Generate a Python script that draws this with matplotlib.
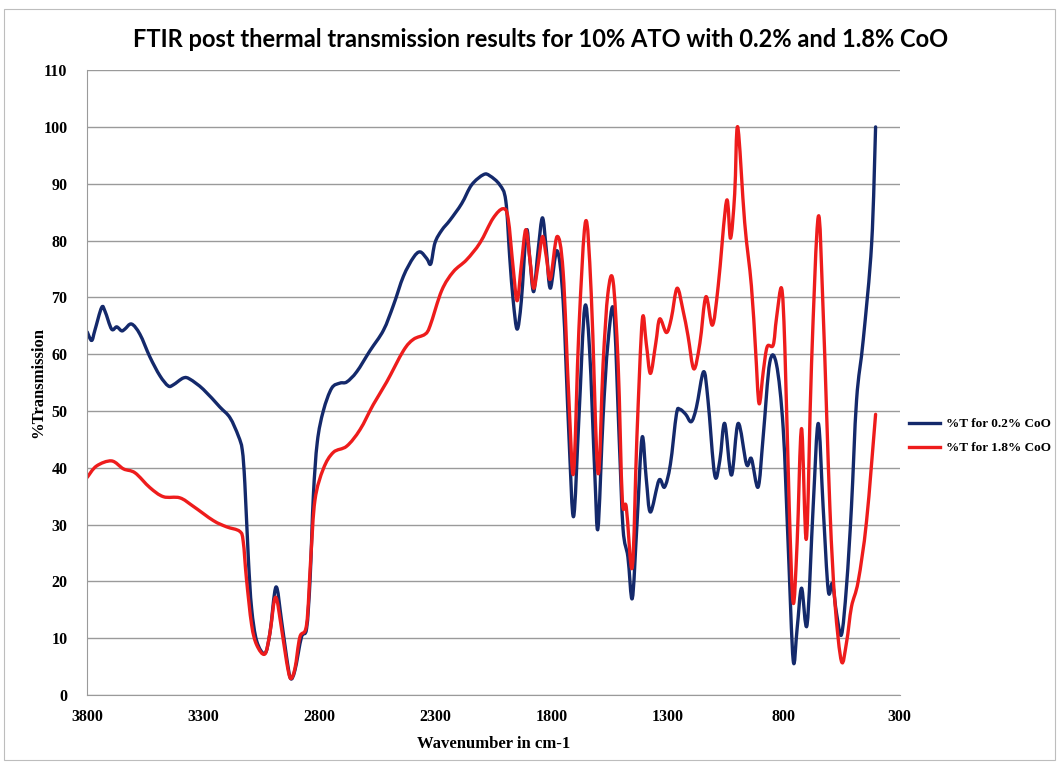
import numpy as np
import matplotlib
matplotlib.use("Agg")
import matplotlib.pyplot as plt
from matplotlib.patches import Rectangle, PathPatch
from matplotlib.path import Path
from matplotlib.lines import Line2D

wn_low = [3799, 3780, 3766, 3737, 3722, 3694, 3672, 3651, 3637, 3608, 3572, 3529, 3486, 3450,
          3428, 3385, 3357, 3299, 3228, 3184, 3148, 3131, 3120, 3105, 3091, 3069, 3034, 3012,
          2986, 2962, 2940, 2923, 2904, 2876, 2854, 2839, 2825, 2808, 2782, 2746, 2710, 2681,
          2638, 2581, 2523, 2480, 2437, 2394, 2365, 2336, 2319, 2301, 2272, 2236, 2186, 2143,
          2092, 2065, 2022, 1996, 1979, 1964, 1947, 1929, 1907, 1893, 1876, 1857, 1838, 1821,
          1804, 1775, 1749, 1724, 1704, 1681, 1656, 1635, 1613, 1599, 1577, 1556, 1531, 1508,
          1491, 1470, 1451, 1431, 1409, 1391, 1373, 1336, 1312, 1287, 1261, 1247, 1221, 1197,
          1175, 1144, 1125, 1096, 1074, 1053, 1024, 995, 959, 938, 909, 887, 859, 830, 801, 780,
          758, 741, 722, 698, 672, 650, 629, 607, 589, 571, 550, 528, 507, 485, 456, 420, 403]
t_low = [63.9, 62.4, 64.2, 68.2, 67.5, 64.4, 64.8, 64.1, 64.4, 65.3, 63.5, 59.5, 56.2, 54.4,
         54.6, 55.8, 55.6, 53.8, 50.7, 48.8, 45.6, 43.1, 37.2, 24.1, 15.3, 9.5, 7.3, 10.9,
         19.0, 13.1, 6.6, 2.9, 4.4, 10.2, 11.7, 20.4, 35.0, 44.5, 50.0, 54.0, 54.9, 55.1,
         56.9, 60.6, 64.2, 68.6, 73.7, 77.0, 78.0, 76.8, 75.9, 79.6, 81.8, 83.6, 86.5, 89.8,
         91.6, 91.4, 89.8, 87.0, 77.0, 69.4, 64.4, 69.4, 81.7, 77.0, 71.0, 78.2, 84.0, 78.2,
         71.6, 78.2, 69.4, 45.6, 31.4, 48.8, 68.2, 60.7, 39.4, 29.3, 48.8, 61.9, 67.6, 45.6,
         29.3, 24.3, 17.0, 30.0, 45.3, 38.1, 32.2, 37.8, 36.6, 40.6, 49.4, 50.3, 49.4, 48.1,
         50.6, 56.9, 51.9, 38.7, 41.3, 47.8, 38.7, 47.8, 40.6, 41.6, 36.6, 45.6, 58.5, 58.2, 46.9, 26.8,
         6.1, 11.7, 18.8, 12.4, 33.1, 47.8, 33.1, 18.4, 19.6, 14.3, 10.6, 19.3, 33.1, 51.9, 62.6, 79.5, 100.0]

wn_high = [3799, 3759, 3694, 3643, 3593, 3529, 3471, 3400, 3342, 3256, 3199, 3142, 3127, 3113,
           3091, 3069, 3034, 3012, 2988, 2962, 2940, 2923, 2904, 2883, 2854, 2836, 2818, 2782,
           2739, 2681, 2624, 2567, 2509, 2437, 2394, 2344, 2322, 2272, 2222, 2165, 2107, 2051,
           2008, 1986, 1964, 1947, 1929, 1910, 1893, 1876, 1857, 1838, 1821, 1804, 1775, 1749,
           1724, 1704, 1681, 1652, 1628, 1599, 1577, 1556, 1534, 1512, 1494, 1477, 1451, 1431,
           1408, 1391, 1373, 1350, 1333, 1304, 1283, 1258, 1232, 1211, 1186, 1160, 1134, 1106,
           1081, 1045, 1028, 1010, 997, 967, 938, 920, 905, 887, 870, 844, 830, 808, 794, 775,
           758, 741, 722, 701, 679, 650, 629, 600, 578, 550, 528, 507, 478, 442, 403]
t_high = [38.3, 40.3, 41.2, 39.8, 39.1, 36.5, 34.9, 34.7, 33.2, 30.7, 29.6, 28.8, 27.0, 20.4,
          12.4, 8.8, 7.2, 10.9, 17.2, 11.7, 5.8, 2.9, 4.7, 10.2, 12.4, 24.1, 34.3, 39.8,
          42.7, 43.8, 46.7, 51.1, 55.1, 60.6, 62.6, 63.5, 65.0, 71.2, 74.5, 76.6, 79.6, 83.9,
          85.6, 83.9, 75.1, 69.4, 75.7, 81.9, 77.0, 71.6, 75.7, 80.7, 77.0, 73.2, 80.7, 74.5,
          51.9, 39.1, 64.4, 83.4, 70.7, 39.1, 58.2, 70.7, 72.9, 58.2, 34.4, 33.1, 22.5, 45.6,
          66.0, 61.9, 56.6, 61.9, 66.2, 63.8, 66.3, 71.6, 67.6, 63.2, 57.4, 61.9, 70.1, 65.1,
          72.0, 87.0, 80.4, 88.2, 100.0, 83.2, 72.0, 60.7, 51.3, 56.9, 61.3, 61.6, 66.3, 71.6, 61.3, 33.1,
          16.2, 26.8, 46.9, 27.5, 58.2, 84.2, 67.6, 33.1, 16.2, 5.9, 9.3, 15.5, 20.0, 30.6, 49.4]

labels = ["%T for 0.2% CoO", "%T for 1.8% CoO"]
colors = ["#14296b", "#ee1c1c"]
x_ticks = [3800, 3300, 2800, 2300, 1800, 1300, 800, 300]
y_ticks = list(range(0, 111, 10))

serif = "Liberation Serif"


def smooth_path(x, y):
    # Excel-style smoothed line: Catmull-Rom segments drawn as cubic Beziers
    p = np.column_stack([x, y]).astype(float)
    verts = [p[0]]
    codes = [Path.MOVETO]
    n = len(p)
    for i in range(n - 1):
        p0 = p[i - 1] if i > 0 else p[i]
        p3 = p[i + 2] if i + 2 < n else p[i + 1]
        c1 = p[i] + (p[i + 1] - p0) / 6.0
        c2 = p[i + 1] - (p3 - p[i]) / 6.0
        verts += [c1, c2, p[i + 1]]
        codes += [Path.CURVE4] * 3
    return Path(verts, codes)


fig = plt.figure(figsize=(10.57, 7.62), dpi=100)
fig.patches.append(Rectangle((0.004, 0.003), 0.994, 0.985, transform=fig.transFigure,
                             fill=False, edgecolor="#bdbdbd", linewidth=0.8))
ax = fig.add_axes([0.0823, 0.088, 0.7687, 0.82])

for (xs, ys), c in zip([(wn_low, t_low), (wn_high, t_high)], colors):
    ax.add_patch(PathPatch(smooth_path(xs, ys), fill=False, edgecolor=c,
                           linewidth=2.4, joinstyle="round", capstyle="round"))

ax.set_xlim(3800, 300)
ax.set_ylim(0, 110)
ax.set_xticks(x_ticks)
ax.set_yticks(y_ticks)
ax.grid(axis="y", color="#9a9a9a", linewidth=1.0)
ax.set_axisbelow(True)
for s in ["top", "right"]:
    ax.spines[s].set_visible(False)
for s in ["left", "bottom"]:
    ax.spines[s].set_color("#9a9a9a")
ax.tick_params(length=0, pad=10)
for lab in ax.get_xticklabels() + ax.get_yticklabels():
    lab.set_fontfamily(serif)
    lab.set_fontweight("bold")
    lab.set_fontsize(11.5)
ax.tick_params(axis="y", pad=14)

ax.set_xlabel("Wavenumber in cm-1", fontfamily=serif, fontweight="bold", fontsize=12, labelpad=8)
ax.set_ylabel("%Transmission", fontfamily=serif, fontweight="bold", fontsize=12, labelpad=-2)

fig.text(0.511, 0.948, "FTIR post thermal transmission results for 10% ATO with 0.2% and 1.8% CoO",
         ha="center", va="center", fontfamily="Lato", fontweight="bold", fontsize=17)

handles = [Line2D([], [], color=c, linewidth=2.4) for c in colors]
ax.legend(handles, labels, loc="center left", bbox_to_anchor=(1.0, 0.414), frameon=False,
          prop={"family": serif, "weight": "bold", "size": 9.5},
          handlelength=2.4, handletextpad=0.4, labelspacing=0.9, borderaxespad=0.3)

fig.savefig("out.png", dpi=100)
